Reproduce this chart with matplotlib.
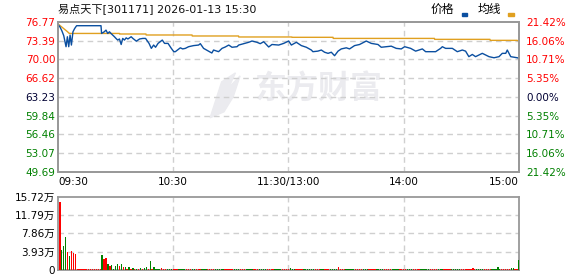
import numpy as np
import matplotlib
matplotlib.use("Agg")
from matplotlib import pyplot as plt

plt.rcParams['font.family'] = ['DejaVu Sans', 'Noto Sans CJK SC']

# daten
title = "易点天下[301171] 2026-01-13 15:30"
prev_close = 63.23
price_ticks = [49.69, 53.07, 56.46, 59.84, 63.23, 66.62, 70.00, 73.39, 76.77]
price_labels = ["49.69", "53.07", "56.46", "59.84", "63.23", "66.62", "70.00", "73.39", "76.77"]
pct_labels = ["21.42%", "16.06%", "10.71%", "5.35%", "0.00%", "5.35%", "10.71%", "16.06%", "21.42%"]
time_ticks = [0, 60, 120, 180, 240]
time_labels = ["09:30", "10:30", "11:30/13:00", "14:00", "15:00"]

# Preis-Verlauf: Minute seit 09:30 (Mittagspause rausgenommen) und Preis
price_min = [0, 1, 2, 3, 4.2, 4.9, 5.6, 6.3, 7.0, 7.8, 8.7, 9.7, 21.9, 22.4, 22.7, 24.1, 25.0, 25.9,
             26.8, 27.6, 28.5, 29.4, 30.2, 31.1, 32.0, 32.9, 33.7, 34.6, 35.5, 36.4, 37.3, 38.1,
             39.0, 40.8, 42.5, 44.2, 45.6, 47.4, 48.6, 49.8, 50.8, 52.1, 54.3, 55.5, 57.3, 59.0,
             60.3, 61.1, 63.7, 64.9, 66.3, 68.0, 70.6, 73.2, 74.1, 75.8, 78.4, 80.1, 81.0, 83.6,
             85.4, 87.1, 88.9, 90.6, 93.2, 94.1, 96.7, 99.3, 101.0, 103.6, 105.3, 107.1, 109.7,
             111.4, 114.9, 117.5, 120.1, 121.5, 124.1, 126.7, 129.3, 131.9, 132.7, 135.3, 137.1,
             138.8, 140.6, 142.3, 144.0, 145.8, 147.5, 150.1, 151.8, 154.4, 157.0, 160.5, 163.1,
             166.6, 168.3, 170.9, 173.5, 176.1, 178.7, 180.5, 183.6, 186.2, 189.7, 191.4, 196.6,
             199.2, 200.1, 201.8, 205.3, 207.9, 210.5, 212.2, 213.9, 215.7, 217.4, 220.9, 222.6,
             224.4, 227.0, 229.6, 231.3, 233.1, 233.9, 235.7, 239.1, 240]
price = [76.30, 75.90, 75.20, 74.30, 72.30, 74.10, 72.30, 74.40, 72.60, 75.00, 75.60, 76.10, 76.10,
         76.10, 74.70, 75.00, 75.30, 74.70, 75.00, 74.70, 74.40, 74.10, 73.80, 73.50, 73.70, 72.70,
         73.80, 73.50, 73.90, 73.70, 73.90, 74.10, 73.80, 73.30, 73.70, 73.80, 73.80, 72.90, 72.00,
         72.60, 72.20, 72.90, 73.50, 72.90, 72.90, 72.00, 71.40, 71.40, 72.10, 71.90, 72.00, 72.30,
         72.50, 72.60, 72.85, 72.00, 71.50, 71.16, 71.70, 71.40, 72.00, 72.25, 72.60, 72.20, 72.30,
         72.60, 72.85, 73.10, 73.33, 73.10, 72.85, 73.20, 72.25, 72.70, 72.60, 72.90, 73.33, 72.60,
         73.10, 72.50, 72.20, 71.70, 71.40, 71.50, 71.70, 71.30, 71.10, 71.30, 70.67, 71.50, 71.90,
         72.10, 71.90, 72.50, 72.70, 73.33, 72.90, 72.70, 72.20, 72.30, 72.40, 72.00, 71.90, 72.30,
         72.00, 71.50, 71.90, 71.40, 71.40, 72.00, 72.30, 72.00, 72.00, 71.40, 71.70, 71.50, 70.50,
         70.90, 70.50, 71.10, 70.80, 70.50, 70.30, 70.50, 71.10, 71.10, 71.70, 70.50, 70.30, 70.20]

avg_min = [0.7, 5.0, 5.9, 32.0, 32.1, 45.8, 45.9, 69.8, 69.9, 94.0, 94.1, 121.7, 121.8, 143.2,
           143.3, 196.0, 196.1, 224.9, 225.0, 239.0, 240]
avg_price = [76.23, 75.00, 74.70, 74.70, 74.60, 74.60, 74.42, 74.42, 74.24, 74.24, 74.06, 74.06,
             74.00, 74.00, 73.80, 73.80, 73.63, 73.63, 73.45, 73.45, 73.33]

# Volumen in 万, Minute 1..240
vol = [14.65, 4.3, 5.1, 7.1, 3.9, 2.9, 4.1, 3.7, 3.4, 0.25,
       0.25, 0.25, 0.25, 0.25, 0.25, 0.25, 0.25, 0.25, 0.25, 0.25,
       0.25, 0.25, 3.2, 2.4, 2.6, 1.3, 0.9, 1.1, 0.25, 0.9,
       1.3, 0.9, 1.3, 0.7, 0.7, 0.25, 0.7, 0.25, 0.5, 0.25,
       0.25, 0.25, 0.5, 0.3, 0.5, 0.7, 0.25, 1.9, 0.25, 0.7,
       0.25, 0.25, 0.25, 0.5, 0.25, 0.25, 0.25, 0.25, 0.25, 0.25,
       0.25, 0.25, 0.25, 0.25, 0.25, 0.25, 0.25, 0.25, 0.25, 0.25,
       0.25, 0.25, 0.25, 0.25, 0.25, 0.25, 0.25, 0.25, 0.25, 0.25,
       0.25, 0.25, 0.25, 0.25, 0.25, 0.25, 0.25, 0.25, 0.25, 0.25,
       0.25, 0.25, 0.25, 0.25, 0.25, 0.25, 0.25, 0.25, 0.25, 0.25,
       0.25, 0.25, 0.25, 0.25, 0.25, 0.25, 0.25, 0.25, 0.25, 0.25,
       0.25, 0.25, 0.25, 0.25, 0.25, 0.25, 0.25, 0.25, 0.25, 0.25,
       0.4, 0.25, 0.25, 0.25, 0.25, 0.25, 0.25, 0.25, 0.25, 0.25,
       0.25, 0.25, 0.25, 0.25, 0.25, 0.25, 0.25, 0.25, 0.25, 0.25,
       0.25, 0.25, 0.25, 0.25, 0.25, 0.65, 0.25, 0.25, 0.25, 0.25,
       0.25, 0.25, 0.25, 0.25, 0.25, 0.25, 0.25, 0.25, 0.25, 0.25,
       0.25, 0.25, 0.25, 0.25, 0.25, 0.25, 0.25, 0.25, 0.25, 0.25,
       0.25, 0.25, 0.25, 0.25, 0.25, 0.25, 0.25, 0.25, 0.25, 0.25,
       0.25, 0.25, 0.25, 0.25, 0.25, 0.25, 0.25, 0.25, 0.25, 0.25,
       0.25, 0.25, 0.25, 0.25, 0.25, 0.25, 0.25, 0.25, 0.25, 0.25,
       0.25, 0.25, 0.25, 0.25, 0.25, 0.25, 0.25, 0.25, 0.25, 0.25,
       0.25, 0.25, 0.25, 0.25, 0.25, 0.45, 0.25, 0.25, 0.25, 0.25,
       0.25, 0.25, 0.25, 0.25, 0.25, 0.25, 0.25, 0.25, 0.65, 0.25,
       0.25, 0.25, 0.25, 0.25, 0.25, 0.45, 0.45, 0.25, 0.25, 2.1]
# r = rot (steigend), g = gruen (fallend)
vol_dir = ("rgggrgrrr" + "rrrrrrrrrrrrr" + "grrgrggggrgrgrgrgrgrgrggrgrg"
           + "gggrrrgggr" + "rrggggrrrg" + "grrrgggrrr" + "rgggggrrrr" + "rgggrrrggg"
           + "grrrggggrr" + "rrggggrrrr" + "gggrrrrggg" + "gggrrrggrr" + "rggggrrrrg"
           + "ggggrrrrgg" + "grrrrggggr" + "rrrggggrrr" + "rgggrrrrgg" + "gggrrrrggg"
           + "rrrrgggggr" + "rrrrrrrggg" + "grrrrggggg" + "rrrrrggrrg")
vol_ticks = [0, 3.93, 7.86, 11.79, 15.72]
vol_labels = ["0", "3.93万", "7.86万", "11.79万", "15.72万"]

RED = "#ff0000"
GREEN = "#008000"
DARK = "#000033"
BLUE = "#0b4fa0"
ORANGE = "#e0a020"
GRID = "#cfcfcf"
FRAME = "#999999"
WATER = "#ebebef"

fig = plt.figure(figsize=(5.78, 2.76), dpi=100)
ax = fig.add_axes([0.1003, 0.3779, 0.7976, 0.5424])
axv = fig.add_axes([0.1003, 0.0217, 0.7976, 0.2656])

# watermark (Logo grob + Schriftzug)
ax.add_patch(plt.Polygon([(0.33, 0.36), (0.355, 0.60), (0.385, 0.66), (0.37, 0.56),
                          (0.395, 0.64), (0.38, 0.50), (0.36, 0.40)],
                         closed=True, transform=ax.transAxes, color=WATER, zorder=0))
ax.text(0.565, 0.55, "东方财富", transform=ax.transAxes, fontsize=23, fontweight="bold",
        color=WATER, ha="center", va="center", family=["Noto Sans CJK SC"], zorder=0)

ax.plot(avg_min, avg_price, color=ORANGE, lw=1.0, zorder=3)
ax.plot(price_min, price, color=BLUE, lw=1.0, zorder=4)
ax.set_xlim(0, 240)
ax.set_ylim(price_ticks[0], price_ticks[-1])
ax.set_yticks(price_ticks)
ax.set_yticklabels(price_labels)
ax.set_xticks(time_ticks)
ax.set_xticklabels(time_labels)

ax2 = ax.twinx()
ax2.set_ylim(price_ticks[0], price_ticks[-1])
ax2.set_yticks(price_ticks)
ax2.set_yticklabels(pct_labels)

for a in (ax, ax2, axv):
    a.tick_params(length=0, labelsize=7.5)
    for s in a.spines.values():
        s.set_color(FRAME)
        s.set_linewidth(1.3)
ax.tick_params(axis="y", pad=2)
ax2.tick_params(axis="y", pad=5)
ax.tick_params(axis="x", pad=4)

for i, (l, r) in enumerate(zip(ax.get_yticklabels(), ax2.get_yticklabels())):
    c = GREEN if price_ticks[i] < prev_close else (RED if price_ticks[i] > prev_close else DARK)
    l.set_color(c)
    r.set_color(c)

xl = ax.get_xticklabels()
xl[0].set_ha("left")
xl[-1].set_ha("right")

for a in (ax, axv):
    for t in time_ticks[1:-1]:
        a.axvline(t, color=GRID, lw=1.0, ls=(0, (4, 3)), zorder=1)
for p in price_ticks[1:-1]:
    ax.axhline(p, color=GRID, lw=1.0, ls=(0, (4, 3)), zorder=1)

# volume
vx = np.arange(1, len(vol) + 1)
vcol = [RED if d == "r" else GREEN for d in vol_dir]
axv.bar(vx, vol, width=0.7, color=vcol, edgecolor="none", linewidth=0, zorder=3)
axv.set_xlim(0, 240)
axv.set_ylim(0, vol_ticks[-1])
axv.set_yticks(vol_ticks)
axv.set_yticklabels(vol_labels)
axv.set_xticks([])
for v in vol_ticks[1:-1]:
    axv.axhline(v, color=GRID, lw=1.0, ls=(0, (4, 3)), zorder=1)
axv.tick_params(axis="y", pad=2)

fig.text(58 / 578, 1 - 9 / 276, title, fontsize=8, ha="left", va="center", color="#111111")
# legend
fig.text(431 / 578, 1 - 9 / 276, "价格", fontsize=8.5, ha="left", va="center")
fig.text(478 / 578, 1 - 9 / 276, "均线", fontsize=8.5, ha="left", va="center")
fig.patches.append(plt.Rectangle((462 / 578, 1 - 16 / 276), 5 / 578, 3 / 276,
                                 transform=fig.transFigure, color=BLUE))
fig.patches.append(plt.Rectangle((508 / 578, 1 - 16 / 276), 6 / 578, 3 / 276,
                                 transform=fig.transFigure, color=ORANGE))

fig.savefig("out.png", dpi=100)
